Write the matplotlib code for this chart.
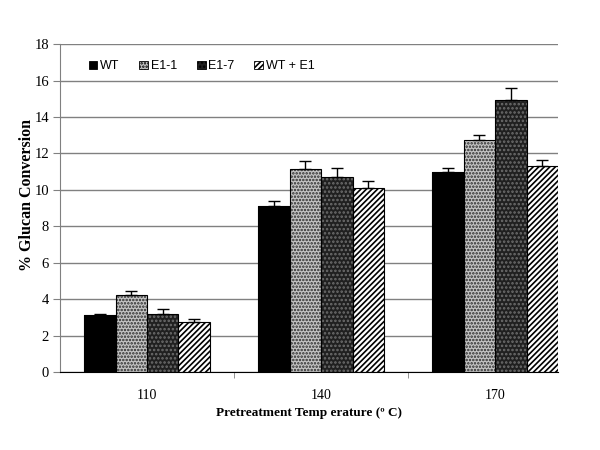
import matplotlib.pyplot as plt
from matplotlib.patches import Patch
import numpy as np

temps = ["110", "140", "170"]
series = ["WT", "E1-1", "E1-7", "WT + E1"]
wt = [3.11, 9.13, 10.96]
e1_1 = [4.24, 11.16, 12.72]
e1_7 = [3.18, 10.72, 14.93]
wt_e1 = [2.76, 10.08, 11.31]
wt_err = [0.08, 0.25, 0.24]
e1_1_err = [0.2, 0.44, 0.27]
e1_7_err = [0.3, 0.46, 0.64]
wt_e1_err = [0.15, 0.42, 0.31]

vals = [wt, e1_1, e1_7, wt_e1]
errs = [wt_err, e1_1_err, e1_7_err, wt_e1_err]
# face, hatch, hatch colour
styles = [("black", "", "black"),
          ("#c4c4c4", ".....", "#2a2a2a"),
          ("#202020", "....", "#6e6e6e"),
          ("white", "//////", "black")]

plt.rcParams["hatch.linewidth"] = 1.2
fig = plt.figure(figsize=(6, 4.5), dpi=100)
ax = fig.add_axes([0.1, 0.173, 0.83, 0.729])

x = np.arange(len(temps))
w = 0.181
for i, (v, e) in enumerate(zip(vals, errs)):
    fc, h, hc = styles[i]
    pos = x + (i - 1.5) * w
    ax.bar(pos, v, w, color=fc, hatch=h, edgecolor=hc, linewidth=0, zorder=2)
    ax.bar(pos, v, w, fill=False, edgecolor="black", linewidth=0.8, zorder=3)
    ax.errorbar(pos, v, yerr=[np.zeros(len(e)), e], fmt="none", ecolor="black",
                elinewidth=1, capsize=4, capthick=1, zorder=4)

ax.set_xlim(-0.5, 2.362)
ax.set_ylim(0, 18)
ax.set_yticks(range(0, 19, 2))
ax.yaxis.grid(True, color="#808080", linewidth=1)
ax.set_axisbelow(True)
ax.set_xticks(x)
ax.set_xticklabels(temps, fontfamily="Liberation Serif", fontsize=10)
ax.set_xticks([0.5, 1.5], minor=True)
ax.tick_params(axis="x", which="major", length=0, pad=12)
ax.tick_params(axis="x", which="minor", length=4, color="#808080")
ax.tick_params(axis="y", length=5, color="#808080", labelsize=10.5, pad=3)
for lab in ax.get_yticklabels():
    lab.set_fontfamily("Liberation Serif")
for s in ["top", "right"]:
    ax.spines[s].set_visible(False)
ax.spines["left"].set_color("#808080")
ax.spines["bottom"].set_color("black")

ax.set_ylabel("% Glucan Conversion", fontfamily="Liberation Serif",
              fontweight="bold", fontsize=11.5)
ax.yaxis.set_label_coords(-0.05, 0.54)
ax.set_xlabel("Pretreatment Temp erature (\u00ba C)", fontfamily="Liberation Serif",
              fontweight="bold", fontsize=9.5, labelpad=4)

handles = [Patch(facecolor=fc, hatch=h, edgecolor="black", linewidth=0.6)
           for fc, h, hc in styles]
ax.legend(handles, series, ncol=4, loc="upper left", bbox_to_anchor=(0.035, 0.985),
          frameon=False, handlelength=0.7, handleheight=0.7, handletextpad=0.2,
          columnspacing=1.6, prop={"family": "Liberation Sans", "size": 9})

fig.savefig("out.png", dpi=100)
